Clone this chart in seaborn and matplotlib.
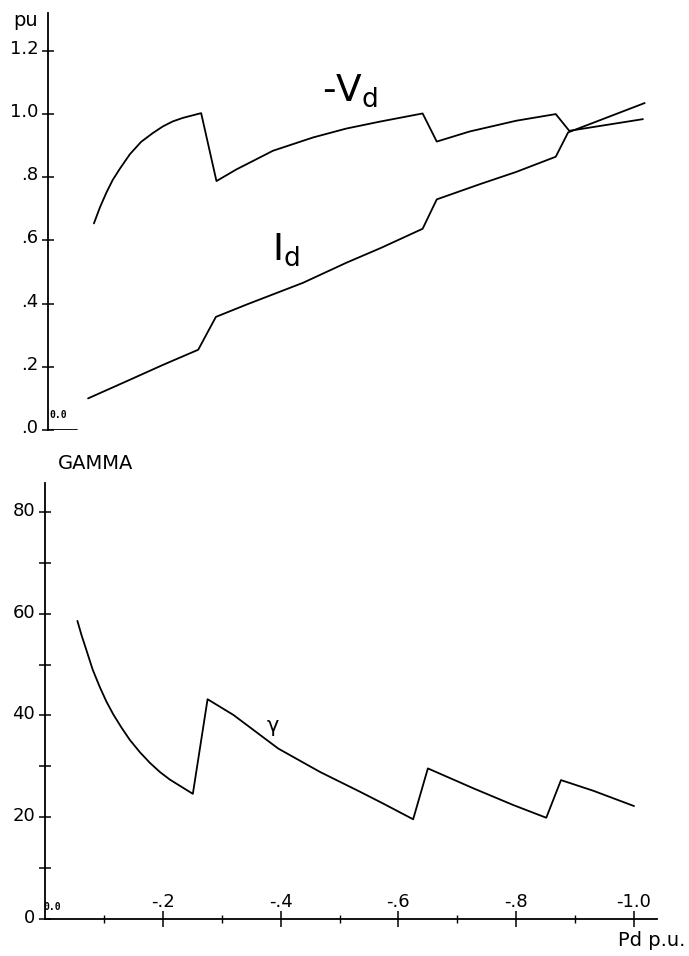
import matplotlib
matplotlib.use("Agg")
import matplotlib.pyplot as plt
import matplotlib.transforms as mtransforms
import seaborn as sns
import pandas as pd

# Converter operating curves versus DC power (p.u.)
vd_p = [-0.078, -0.088, -0.099, -0.110, -0.122, -0.139, -0.158, -0.178, -0.195, -0.212,
        -0.229, -0.260, -0.286, -0.320, -0.382, -0.450, -0.506, -0.563, -0.636, -0.660,
        -0.716, -0.795, -0.862, -0.885, -1.010]
vd_val = [0.654, 0.704, 0.751, 0.792, 0.827, 0.873, 0.912, 0.940, 0.961, 0.977,
          0.988, 1.003, 0.788, 0.825, 0.884, 0.926, 0.954, 0.976, 1.002, 0.913,
          0.945, 0.979, 1.000, 0.947, 0.984]

id_p = [-0.068, -0.139, -0.195, -0.255, -0.285, -0.337, -0.433, -0.506, -0.566, -0.636,
        -0.660, -0.733, -0.795, -0.862, -0.883, -1.013]
id_val = [0.100, 0.159, 0.206, 0.254, 0.358, 0.397, 0.466, 0.529, 0.577, 0.637,
          0.730, 0.778, 0.817, 0.865, 0.942, 1.035]

gamma_p = [-0.055, -0.062, -0.071, -0.081, -0.093, -0.104, -0.116, -0.130, -0.144, -0.161,
           -0.178, -0.195, -0.212, -0.251, -0.276, -0.320, -0.396, -0.467, -0.535, -0.574,
           -0.625, -0.650, -0.727, -0.795, -0.851, -0.876, -0.931, -1.000]
gamma_val = [58.6, 55.8, 52.6, 49.0, 45.6, 42.8, 40.2, 37.6, 35.2, 32.8,
             30.7, 28.9, 27.4, 24.6, 43.2, 40.1, 33.5, 28.9, 25.0, 22.7,
             19.6, 29.6, 25.7, 22.4, 19.9, 27.3, 25.2, 22.2]

pu_ticks = [0.0, 0.2, 0.4, 0.6, 0.8, 1.0, 1.2]
pu_labels = [".0", ".2", ".4", ".6", ".8", "1.0", "1.2"]
gamma_ticks = [0, 20, 40, 60, 80]
gamma_minor = [10, 30, 50, 70]
p_ticks = [-0.2, -0.4, -0.6, -0.8, -1.0]
p_labels = ["-.2", "-.4", "-.6", "-.8", "-1.0"]
p_minor = [-0.1, -0.3, -0.5, -0.7, -0.9]

sns.set_theme(style="white")
plt.rcParams["font.family"] = ["DejaVu Sans"]
plt.rcParams["text.color"] = "black"
plt.rcParams["xtick.color"] = "black"
plt.rcParams["ytick.color"] = "black"

W, H = 689, 956
fig = plt.figure(figsize=(W / 100, H / 100), dpi=100)

def box(left, bottom_px, right, top_px):
    return [left / W, 1 - bottom_px / H, (right - left) / W, (bottom_px - top_px) / H]

XMIN, XMAX = 0.0, -1.039

ax1 = fig.add_axes(box(48, 430, 660, 13))
ax2 = fig.add_axes(box(45, 919, 657, 483))

df_v = pd.DataFrame({"P": vd_p, "val": vd_val})
df_i = pd.DataFrame({"P": id_p, "val": id_val})
df_g = pd.DataFrame({"P": gamma_p, "val": gamma_val})

line_kw = dict(color="black", linewidth=1.3, sort=False, estimator=None, legend=False)
sns.lineplot(data=df_v, x="P", y="val", ax=ax1, **line_kw)
sns.lineplot(data=df_i, x="P", y="val", ax=ax1, **line_kw)
sns.lineplot(data=df_g, x="P", y="val", ax=ax2, **line_kw)

lift = mtransforms.ScaledTranslation(0, 4 / 100, fig.dpi_scale_trans)

# upper panel: p.u. quantities
ax1.set_xlim(XMIN, XMAX)
ax1.set_ylim(0, 1.32)
for s in ["top", "right", "bottom"]:
    ax1.spines[s].set_visible(False)
ax1.spines["left"].set_linewidth(1.3)
ax1.spines["left"].set_color("black")
ax1.set_xticks([])
ax1.set_yticks(pu_ticks)
ax1.set_yticklabels(pu_labels)
ax1.tick_params(axis="y", left=True, direction="inout", length=8, width=1.1,
                labelsize=13, pad=3)
for lab in ax1.get_yticklabels():
    lab.set_transform(lab.get_transform() + lift)
ax1.axhline(0, xmin=0, xmax=0.048, color="black", linewidth=1.3)
ax1.set_xlabel("")
ax1.set_ylabel("")
ax1.text(-0.512, 1.075, r"-$\mathrm{V}_{\mathrm{d}}$", fontsize=27, ha="center", va="center")
ax1.text(-0.404, 0.571, r"$\mathrm{I}_{\mathrm{d}}$", fontsize=27, ha="center", va="center")
ax1.annotate("0.0", (0, 0), xytext=(7, 11), textcoords="offset points",
             fontsize=7, fontweight="bold", family="DejaVu Sans Mono", ha="center", va="center")

# lower panel: extinction angle
ax2.set_xlim(XMIN, XMAX)
ax2.set_ylim(0, 85.7)
for s in ["top", "right"]:
    ax2.spines[s].set_visible(False)
for s in ["left", "bottom"]:
    ax2.spines[s].set_linewidth(1.3)
    ax2.spines[s].set_color("black")
ax2.set_yticks(gamma_ticks)
ax2.set_yticks(gamma_minor, minor=True)
ax2.set_xticks(p_ticks)
ax2.set_xticklabels(p_labels)
ax2.set_xticks(p_minor, minor=True)
ax2.tick_params(axis="y", which="both", left=True, direction="inout", length=8, width=1.1,
                labelsize=13, pad=3)
for lab in ax2.get_yticklabels():
    lab.set_transform(lab.get_transform() + mtransforms.ScaledTranslation(0, 3 / 100, fig.dpi_scale_trans))
ax2.tick_params(axis="x", which="major", bottom=True, direction="inout", length=12, width=1.1,
                labelsize=13, pad=-25)
ax2.tick_params(axis="x", which="minor", bottom=True, direction="inout", length=6, width=1.0)
ax2.set_xlabel("")
ax2.set_ylabel("")
ax2.text(-0.387, 37.9, "γ", fontsize=15, ha="center", va="center")
ax2.annotate("0.0", (0, 0), xytext=(5, 9), textcoords="offset points",
             fontsize=7, fontweight="bold", family="DejaVu Sans Mono", ha="center", va="center")

fig.text(26 / W, 1 - 20 / H, "pu", fontsize=14, ha="center", va="center")
fig.text(96 / W, 1 - 464 / H, "GAMMA", fontsize=14, ha="center", va="center")
fig.text(652 / W, 1 - 941 / H, "Pd p.u.", fontsize=14, ha="center", va="center")

fig.savefig("out.png", dpi=100, facecolor="white")
